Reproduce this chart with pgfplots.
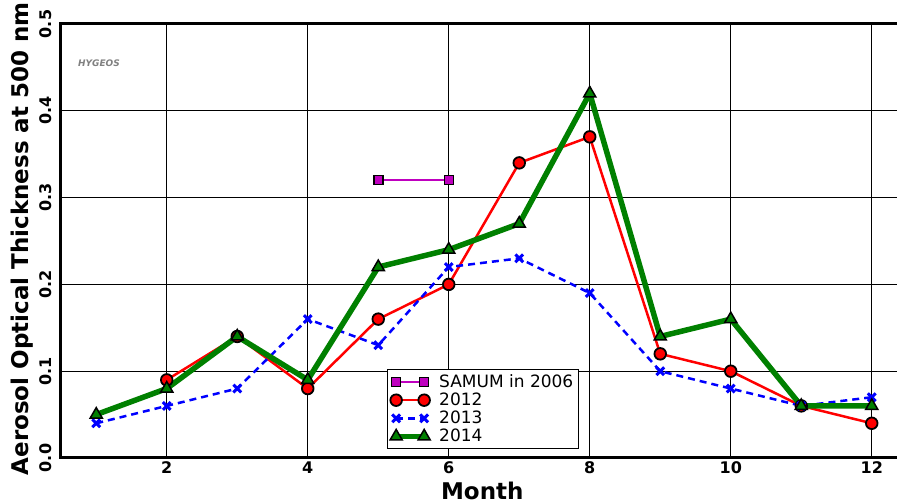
\documentclass[border=0pt]{standalone}
\usepackage{fontspec}
\setmainfont{DejaVu Sans}
\usepackage{pgfplots}
\pgfplotsset{compat=1.18}
\definecolor{mplred}{HTML}{FF0000}
\definecolor{mplblue}{HTML}{0000FF}
\definecolor{mplgreen}{HTML}{008000}
\definecolor{mplmag}{HTML}{BF00BF}
\begin{document}
\begin{tikzpicture}
\begin{axis}[
	scale only axis,
	width=846pt,height=434pt,
	xmin=0.5,xmax=12.5,ymin=0,ymax=0.5,
	xtick={2,4,6,8,10,12},
	ytick={0,0.1,0.2,0.3,0.4,0.5},
	/pgf/number format/assume math mode=true,
	yticklabel style={/pgf/number format/fixed,/pgf/number format/fixed zerofill,/pgf/number format/precision=1,rotate=90,anchor=south,inner ysep=9pt},
	ticklabel style={font=\fontsize{16}{19}\selectfont\bfseries},
	major tick length=0pt,
	grid=major,
	major grid style={black,line width=0.6pt},
	axis line style={line width=3pt},
	xlabel={Month},
	ylabel={Aerosol Optical Thickness at 500 nm},
	label style={font=\fontsize{23}{27}\selectfont\bfseries},
	xlabel style={at={(axis description cs:0.498,-0.077)},anchor=center},
	ylabel style={at={(axis description cs:-0.046,0.505)},anchor=center,rotate=0},
	legend style={at={(axis description cs:0.385,0.021)},anchor=south west,
		font=\fontsize{17}{18}\selectfont,draw=black,line width=0.8pt,
		inner sep=3pt,row sep=0pt,column sep=7pt,cells={anchor=west}},
	legend image code/.code={\draw[mark repeat=2,mark phase=1] plot coordinates {(0pt,0pt) (14pt,0pt) (28pt,0pt)};},
]
\addplot[mplmag,line width=2pt,mark=square*,mark size=4.5pt,mark options={fill=mplmag,draw=black,line width=1.5pt}] coordinates {(5,0.32) (6,0.32)};
\addlegendentry{SAMUM in 2006}
\addplot[mplred,line width=2.5pt,mark=*,mark size=5.8pt,mark options={fill=mplred,draw=black,line width=1.8pt}] coordinates {
	(2,0.09) (3,0.14) (4,0.08) (5,0.16) (6,0.20) (7,0.34) (8,0.37) (9,0.12) (10,0.10) (11,0.06) (12,0.04)};
\addlegendentry{2012}
\addplot[mplblue,line width=2.5pt,dash pattern=on 7pt off 5pt,mark=x,mark size=5.5pt,mark options={solid,mplblue,line width=3pt}] coordinates {
	(1,0.04) (2,0.06) (3,0.08) (4,0.16) (5,0.13) (6,0.22) (7,0.23) (8,0.19) (9,0.10) (10,0.08) (11,0.06) (12,0.07)};
\addlegendentry{2013}
\addplot[mplgreen,line width=5.5pt,mark=triangle*,mark size=7pt,mark options={fill=mplgreen,draw=black,line width=1.5pt}] coordinates {
	(1,0.05) (2,0.08) (3,0.14) (4,0.09) (5,0.22) (6,0.24) (7,0.27) (8,0.42) (9,0.14) (10,0.16) (11,0.06) (12,0.06)};
\addlegendentry{2014}
\node[anchor=west,gray,font=\fontsize{9}{10}\selectfont\bfseries\itshape,inner sep=0pt] at (axis cs:0.74,0.455) {HYGEOS};
\end{axis}
\pgfresetboundingbox
\useasboundingbox (-61pt,-45pt) rectangle (836pt,458pt);
\end{tikzpicture}
\end{document}
